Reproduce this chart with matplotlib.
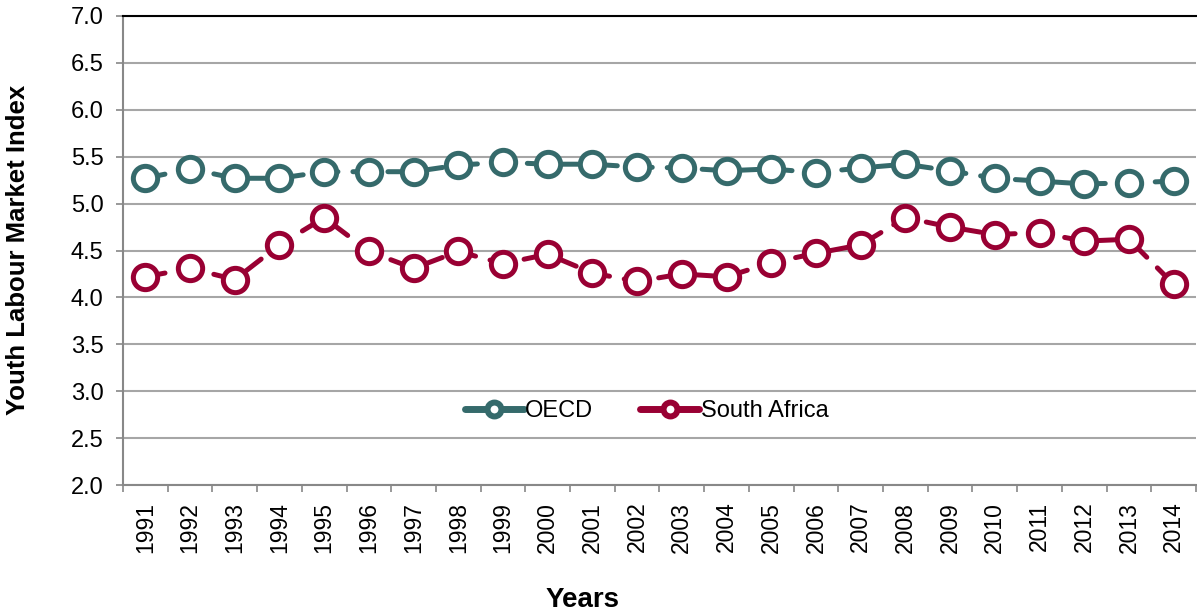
import matplotlib
matplotlib.use("Agg")
import matplotlib.pyplot as plt
from matplotlib.lines import Line2D
import numpy as np

years = [str(y) for y in range(1991, 2015)]
oecd = [5.27, 5.37, 5.27, 5.27, 5.34, 5.34, 5.34, 5.41, 5.44, 5.42, 5.42, 5.39,
        5.38, 5.35, 5.37, 5.33, 5.38, 5.42, 5.35, 5.27, 5.24, 5.21, 5.22, 5.24]
south_africa = [4.22, 4.31, 4.19, 4.56, 4.85, 4.49, 4.31, 4.49, 4.36, 4.46, 4.26, 4.17,
                4.25, 4.22, 4.37, 4.47, 4.56, 4.85, 4.75, 4.67, 4.69, 4.60, 4.62, 4.14]
yticks = [2.0, 2.5, 3.0, 3.5, 4.0, 4.5, 5.0, 5.5, 6.0, 6.5, 7.0]

teal = "#356A6B"
red = "#990033"

plt.rcParams['font.family'] = ['Liberation Sans', 'DejaVu Sans']

fig = plt.figure(figsize=(11.97, 6.15), dpi=100)
ax = fig.add_axes([123/1197, 1 - 485/615, (1196-123)/1197, (485-16)/615])

x = np.arange(len(years))
common = dict(lw=3.6, marker='o', ms=17.5, mew=3.6, mfc='white',
              dash_capstyle='round', solid_capstyle='round', zorder=3)
ax.plot(x, oecd, color=teal, linestyle=(0, (4, 3)), **common)
ax.plot(x, south_africa, color=red, linestyle=(0, (4, 3)), **common)

ax.set_xlim(-0.5, len(years) - 0.5)
ax.set_ylim(2.0, 7.0)
ax.set_yticks(yticks)
ax.set_yticklabels([f"{v:.1f}" for v in yticks], fontsize=17)
ax.yaxis.grid(True, color="#A6A6A6", lw=1.5)
ax.set_axisbelow(True)

ax.set_xticks(np.arange(len(years) + 1) - 0.5)
ax.set_xticklabels([])
ax.set_xticks(x, minor=True)
ax.set_xticklabels(years, minor=True, rotation=90, fontsize=16.5)
ax.tick_params(axis='x', which='minor', length=0, pad=12)
ax.tick_params(axis='x', which='major', length=5, color="#888888", width=1.2, direction='out')
ax.tick_params(axis='y', length=5, color="#888888", width=1.2, direction='out', pad=9)

for s in ['left', 'bottom']:
    ax.spines[s].set_color("#888888")
    ax.spines[s].set_linewidth(1.5)
ax.spines['top'].set_color("black")
ax.spines['top'].set_linewidth(1.5)
ax.spines['right'].set_visible(False)

fig.text(18/1197, 1 - 250/615, "Youth Labour Market Index", rotation=90, ha='center',
         va='center', fontsize=18.5, fontweight='bold')
fig.text(583/1197, 1 - 600/615, "Years", ha='center', va='center', fontsize=20,
         fontweight='bold', family=['Liberation Sans Narrow', 'Liberation Sans'])

h1 = Line2D([], [], color=teal, lw=5, marker='o', ms=10, mew=4.3, mfc='white', solid_capstyle='round')
h2 = Line2D([], [], color=red, lw=5, marker='o', ms=10, mew=4.3, mfc='white', solid_capstyle='round')
ax.legend([h1, h2], ["OECD", "South Africa"], loc='center', bbox_to_anchor=(0.488, 0.158),
          ncol=2, frameon=False, fontsize=17, handlelength=2.5, handletextpad=0.05,
          columnspacing=2.0)

fig.savefig("out.png", dpi=100)
